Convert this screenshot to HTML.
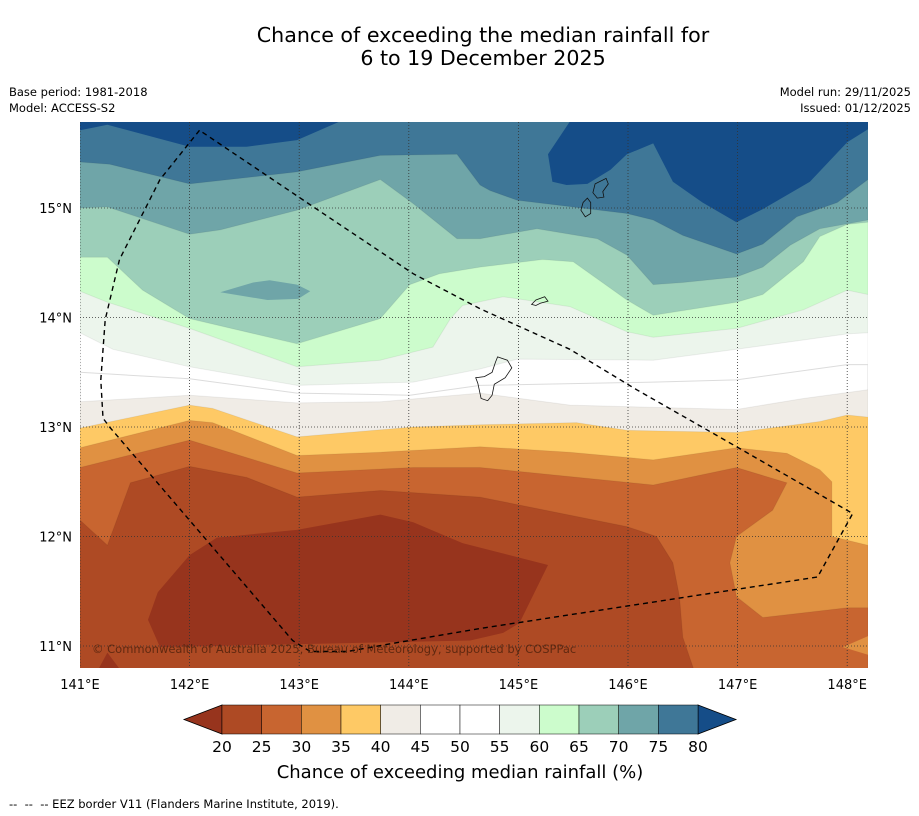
<!DOCTYPE html>
<html><head><meta charset="utf-8"><style>
body{margin:0;background:#fff;}
svg{display:block;font-family:"DejaVu Sans","Liberation Sans",sans-serif;}
</style></head><body>
<svg id="chart" width="919" height="816" viewBox="0 0 919 816" xmlns="http://www.w3.org/2000/svg">
<text x="483" y="42" font-size="20.6" text-anchor="middle">Chance of exceeding the median rainfall for</text>
<text x="483" y="65" font-size="20.6" text-anchor="middle">6 to 19 December 2025</text>
<text x="9" y="96" font-size="11.5">Base period: 1981-2018</text>
<text x="9" y="112" font-size="11.5">Model: ACCESS-S2</text>
<text x="911" y="96" font-size="11.5" text-anchor="end">Model run: 29/11/2025</text>
<text x="911" y="112" font-size="11.5" text-anchor="end">Issued: 01/12/2025</text>
<defs><clipPath id="mapclip"><rect x="80" y="122" width="788" height="546"/></clipPath></defs>
<g id="map" clip-path="url(#mapclip)"></g>
<g id="axes"></g>
<g id="cbar"></g>
<text x="460" y="778" font-size="18" text-anchor="middle">Chance of exceeding median rainfall (%)</text>
<text x="9" y="808" font-size="11.5" xml:space="preserve">--  --  -- EEZ border V11 (Flanders Marine Institute, 2019).</text>
</svg>
<script>
const lonTicks=[141,142,143,144,145,146,147,148];
const latTicks=[11,12,13,14,15];
const levels=[20,25,30,35,40,45,50,55,60,65,70,75,80];
const bandColors=["#ae4a24","#c86530","#e09142","#fec965","#f0ece6","#ffffff","#ffffff","#ecf5ec","#ccfccc","#9ccfb9","#6fa5a8","#3f7797"];
const lowColor="#97341d", highColor="#154d88";
const top80Left=[[141,15.79],[141,15.71],[141.25,15.76],[142.00,15.56],[142.52,15.56],[142.98,15.62],[143.37,15.79]];
const top80Right=[[145.47,15.79],[145.27,15.49],[145.31,15.24],[145.44,15.21],[145.63,15.22],[145.84,15.35],[145.99,15.49],[146.23,15.59],[146.41,15.24],[146.68,15.05],[146.99,14.87],[147.23,14.99],[147.66,15.24],[148.00,15.60],[148.19,15.72],[148.19,15.79]];
const b75=[[141,15.42],[141.27,15.40],[142.00,15.22],[142.98,15.33],[143.74,15.48],[144.44,15.49],[144.65,15.21],[144.74,15.16],[144.99,15.07],[145.99,14.95],[146.23,14.89],[146.50,14.75],[146.99,14.58],[147.23,14.67],[147.54,14.92],[147.91,15.05],[148.19,15.26]];
const b70=[[141,15.00],[141.25,15.01],[142.00,14.76],[142.28,14.80],[142.98,14.98],[143.74,15.26],[144.04,15.04],[144.44,14.72],[144.65,14.72],[145.17,14.81],[145.72,14.72],[145.99,14.57],[146.23,14.30],[146.50,14.32],[146.99,14.37],[147.23,14.46],[147.48,14.66],[147.75,14.81],[148.19,14.89]];
const patch70=[[142.28,14.23],[142.58,14.32],[142.73,14.34],[142.98,14.30],[143.10,14.24],[142.99,14.17],[142.71,14.16]];
const b65=[[141,14.55],[141.25,14.55],[141.57,14.25],[142.00,13.99],[142.98,13.76],[143.74,13.99],[144.01,14.30],[144.28,14.40],[144.65,14.46],[145.22,14.53],[145.50,14.51],[145.99,14.16],[146.23,14.02],[146.99,14.14],[147.23,14.21],[147.60,14.51],[147.75,14.74],[148.00,14.85],[148.19,14.87]];
const b60=[[141,14.24],[141.25,14.14],[142.00,13.90],[142.98,13.55],[143.74,13.61],[144.22,13.73],[144.38,13.99],[144.49,14.11],[144.86,14.19],[145.47,14.10],[145.99,13.87],[146.23,13.82],[146.99,13.90],[147.60,14.07],[148.00,14.25],[148.19,14.21]];
const b55=[[141,13.86],[141.30,13.71],[142.00,13.55],[142.98,13.38],[144.04,13.41],[144.65,13.53],[144.99,13.62],[146.23,13.61],[146.99,13.71],[148.00,13.85],[148.19,13.86]];
const b50=[[141,13.50],[142.00,13.44],[142.98,13.31],[144.01,13.29],[144.65,13.38],[146.23,13.41],[146.99,13.43],[148.00,13.57],[148.19,13.57]];
const b45=[[141,13.23],[142.00,13.29],[142.98,13.22],[143.74,13.23],[144.65,13.31],[145.47,13.20],[146.99,13.16],[147.60,13.26],[148.19,13.34]];
const b40=[[141,12.99],[142.00,13.20],[142.21,13.17],[142.98,12.91],[144.04,13.00],[144.65,13.02],[145.53,13.04],[145.99,12.97],[146.99,12.95],[147.75,13.05],[148.00,13.11],[148.19,13.09]];
const b35=[[141,12.81],[142.00,13.06],[142.21,13.04],[142.98,12.74],[143.74,12.77],[144.65,12.82],[145.47,12.77],[146.23,12.70],[146.99,12.81],[147.45,12.76],[147.75,12.61],[147.86,12.50],[147.86,12.00],[148.19,11.92]];
const b30=[[141,12.63],[142.00,12.88],[142.98,12.58],[144.04,12.63],[144.65,12.63],[146.23,12.47],[146.99,12.63],[147.45,12.49],[147.32,12.24],[146.99,12.00],[146.93,11.76],[146.99,11.45],[147.23,11.26],[148.00,11.35],[148.19,11.35]];
const wedge30=[[148.19,11.09],[147.96,10.99],[148.19,10.92]];
const b25=[[141,12.15],[141.25,11.92],[141.46,12.49],[142.00,12.64],[142.52,12.54],[142.98,12.36],[143.74,12.42],[144.65,12.36],[145.99,12.09],[146.26,12.00],[146.41,11.76],[146.47,11.45],[146.50,11.08],[146.63,10.70]];
const low20=[[142.00,11.83],[142.25,11.99],[142.98,12.06],[143.74,12.20],[144.04,12.13],[144.49,11.94],[145.27,11.74],[145.01,11.21],[144.86,11.12],[144.56,11.05],[141.73,10.99],[141.62,11.24],[141.71,11.49]];
const low20b=[[141.12,10.70],[141.25,10.94],[141.43,10.70]];
const eez=[[142.09,15.71],[141.73,15.26],[141.36,14.53],[141.23,13.98],[141.19,13.43],[141.21,13.08],[141.27,13.00],[142.94,11.05],[143.10,10.95],[143.44,10.95],[143.89,11.03],[144.65,11.16],[147.73,11.63],[148.05,12.21],[146.99,12.82],[146.08,13.34],[145.47,13.71],[144.65,14.08],[144.04,14.40],[143.13,15.01],[142.09,15.71]];
const guam=[[144.81,13.64],[144.90,13.61],[144.94,13.54],[144.88,13.45],[144.78,13.39],[144.76,13.29],[144.72,13.24],[144.66,13.26],[144.63,13.40],[144.61,13.45],[144.69,13.46],[144.76,13.50],[144.79,13.59]];
const rota=[[145.12,14.12],[145.16,14.16],[145.24,14.19],[145.27,14.15],[145.20,14.13],[145.16,14.11]];
const saipan=[[145.70,15.22],[145.80,15.27],[145.82,15.22],[145.77,15.15],[145.78,15.10],[145.72,15.09],[145.68,15.14]];
const tinian=[[145.63,15.09],[145.66,15.05],[145.66,14.95],[145.61,14.92],[145.57,14.98],[145.59,15.05]];

const NS="http://www.w3.org/2000/svg";
function X(lon){return 80+(lon-141)*109.6;}
function Y(lat){return 208+(15-lat)*109.5;}
function pts(a){return a.map(p=>X(p[0]).toFixed(1)+","+Y(p[1]).toFixed(1)).join(" ");}
function mk(tag,attrs,parent){const e=document.createElementNS(NS,tag);for(const k in attrs)e.setAttribute(k,attrs[k]);parent.appendChild(e);return e;}
const map=document.getElementById("map");
const bg=mk("rect",{x:80,y:122,width:788,height:546,fill:bandColors[11]},map);


function below(line,color,name){
  const last=line[line.length-1];
  const a=line.concat([[last[0],10.6],[141,10.6]]);
  const p=mk("polygon",{points:pts(a),fill:color,stroke:"rgba(0,0,0,0.06)","stroke-width":1},map);
  
  
}
function poly(a,color,name){
  const p=mk("polygon",{points:pts(a),fill:color},map);
  
  
}
poly(top80Left,highColor,"band-above-80-west");
poly(top80Right,highColor,"band-above-80-east");
below(b75,bandColors[10],"band-70-75");
below(b70,bandColors[9],"band-65-70");
poly(patch70,bandColors[10],"patch-70-75");
below(b65,bandColors[8],"band-60-65");
below(b60,bandColors[7],"band-55-60");
below(b55,bandColors[6],"band-50-55");
below(b50,bandColors[5],"band-45-50");
map.lastChild.setAttribute("stroke","#dcdcdc");
below(b45,bandColors[4],"band-40-45");
below(b40,bandColors[3],"band-35-40");
below(b35,bandColors[2],"band-30-35");
below(b30,bandColors[1],"band-25-30");
poly(wedge30,bandColors[2],"patch-30-35");
below(b25,bandColors[0],"band-20-25");
poly(low20,lowColor,"band-below-20");
poly(low20b,lowColor,"patch-below-20");
lonTicks.forEach(l=>{const g=mk("line",{x1:X(l),x2:X(l),y1:122,y2:668,stroke:"#333","stroke-width":0.8,"stroke-dasharray":"1,2"},map);

});
latTicks.forEach(l=>{const g=mk("line",{x1:80,x2:868,y1:Y(l),y2:Y(l),stroke:"#333","stroke-width":0.8,"stroke-dasharray":"1,2"},map);

});
[[guam,"guam-outline"],[rota,"rota-outline"],[saipan,"saipan-outline"],[tinian,"tinian-outline"]].forEach(([a,n])=>{
  const p=mk("polygon",{points:pts(a),fill:"none",stroke:"#111","stroke-width":0.8},map);
  
  
});
const e=mk("polyline",{points:pts(eez),fill:"none",stroke:"#000","stroke-width":1.4,"stroke-dasharray":"5,4"},map);


const cp=mk("text",{x:92,y:653,"font-size":11.5,fill:"rgba(70,30,10,0.75)"},map);
cp.textContent="© Commonwealth of Australia 2025, Bureau of Meteorology, supported by COSPPac";


const axes=document.getElementById("axes");
lonTicks.forEach(l=>{const t=mk("text",{x:X(l),y:689,"font-size":13,"text-anchor":"middle"},axes);t.textContent=l+"°E";

});
latTicks.forEach(l=>{const t=mk("text",{x:72,y:Y(l)+5,"font-size":13,"text-anchor":"end"},axes);t.textContent=l+"°N";

});
const cb=document.getElementById("cbar");
const cx0=222,cx1=698,cy0=705,cy1=734,tri=38;
const bw=(cx1-cx0)/(levels.length-1);
const lt=mk("polygon",{points:`${cx0},${cy0} ${cx0-tri},${(cy0+cy1)/2} ${cx0},${cy1}`,fill:lowColor,stroke:"#000","stroke-width":0.8},cb);


const rt=mk("polygon",{points:`${cx1},${cy0} ${cx1+tri},${(cy0+cy1)/2} ${cx1},${cy1}`,fill:highColor,stroke:"#000","stroke-width":0.8},cb);


bandColors.forEach((c,i)=>{const r=mk("rect",{x:cx0+i*bw,y:cy0,width:bw,height:cy1-cy0,fill:c,stroke:"#000","stroke-width":0.5},cb);

});
levels.forEach((v,i)=>{const t=mk("text",{x:cx0+i*bw,y:752,"font-size":15.5,"text-anchor":"middle"},cb);t.textContent=v;

});
</script>
</body></html>
